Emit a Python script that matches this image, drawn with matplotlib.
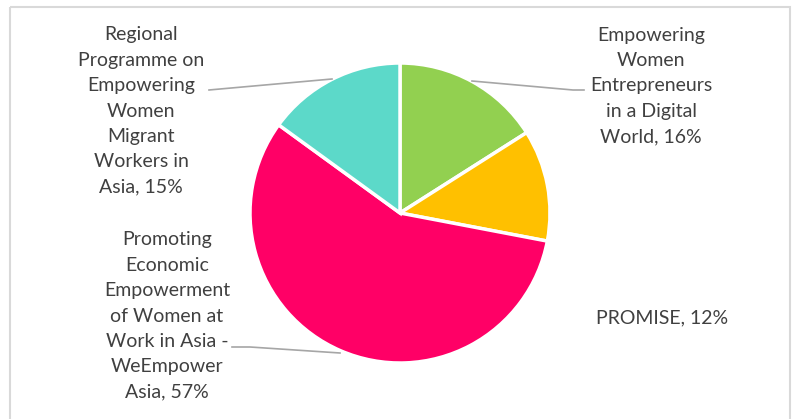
import matplotlib.pyplot as plt
from matplotlib.patches import Rectangle

plt.rcParams['font.family'] = ['Lato', 'DejaVu Sans']

# data
programmes = ["Empowering\nWomen\nEntrepreneurs\nin a Digital\nWorld",
              "PROMISE",
              "Promoting\nEconomic\nEmpowerment\nof Women at\nWork in Asia -\nWeEmpower\nAsia",
              "Regional\nProgramme on\nEmpowering\nWomen\nMigrant\nWorkers in\nAsia"]
shares = [16, 12, 57, 15]
colors = ["#92D050", "#FFC000", "#FF0066", "#5CD9C9"]

# label placement (pixels) and leader lines
label_pos = [(651, 86), (662, 318), (167, 316), (141, 111)]
leaders = [[(472, 81), (573, 90), (584, 90)],
           None,
           [(340, 353), (250, 347), (232, 347)],
           [(332, 79), (220, 89), (209, 90)]]

fig = plt.figure(figsize=(7.93, 4.19), dpi=100)
ax = fig.add_axes([0, 0, 1, 1])

# chart area border
ax.add_patch(Rectangle((9.5, 7.5), 780.5, 420, fill=False, edgecolor="#D9D9D9",
                       lw=1.5, clip_on=False))

# y axis is flipped (pixel coords), so start at -90 and go counterclockwise
ax.pie(shares, colors=colors, startangle=-90, counterclock=True,
       center=(400, 213), radius=150, frame=True,
       wedgeprops=dict(edgecolor="white", linewidth=2.5))
ax.set_xlim(0, 793)
ax.set_ylim(419, 0)
ax.axis('off')

for name, val, (x, y), ld in zip(programmes, shares, label_pos, leaders):
    ax.text(x, y, f"{name}, {val}%", ha='center', va='center', fontsize=14,
            color="#404040", linespacing=1.6)
    if ld:
        xs, ys = zip(*ld)
        ax.plot(xs, ys, color="#A6A6A6", lw=1.2)

fig.savefig("out.png", dpi=100)
